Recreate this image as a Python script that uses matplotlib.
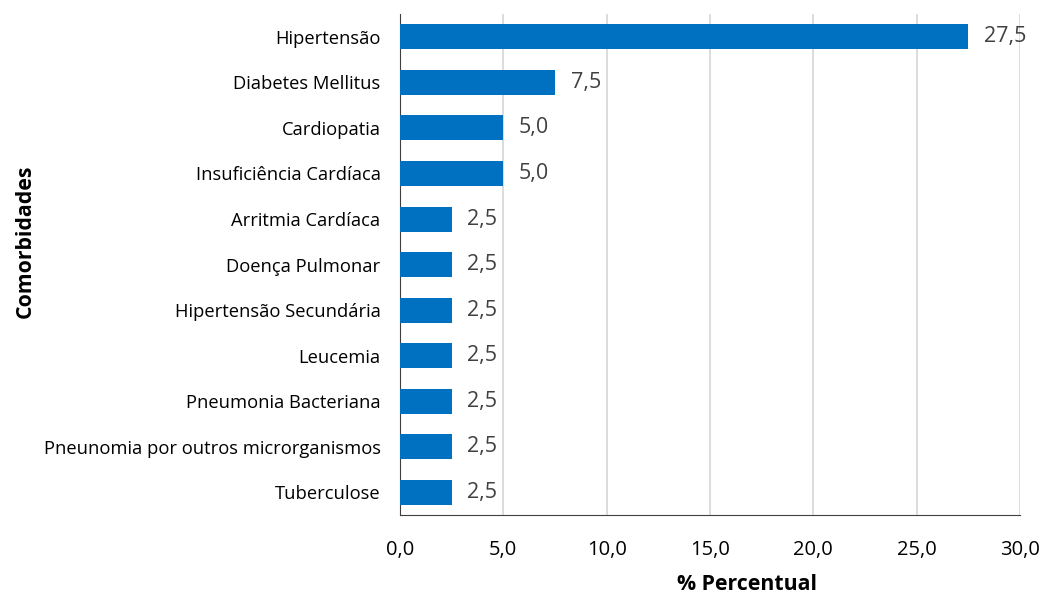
import matplotlib.pyplot as plt
from matplotlib.ticker import FuncFormatter

categorias = ['Hipertensão', 'Diabetes Mellitus', 'Cardiopatia', 'Insuficiência Cardíaca',
              'Arritmia Cardíaca', 'Doença Pulmonar', 'Hipertensão Secundária', 'Leucemia',
              'Pneumonia Bacteriana', 'Pneunomia por outros microrganismos', 'Tuberculose']
percentuais = [27.5, 7.5, 5.0, 5.0, 2.5, 2.5, 2.5, 2.5, 2.5, 2.5, 2.5]
xticks = [0, 5, 10, 15, 20, 25, 30]

plt.rcParams['font.family'] = ['Open Sans', 'DejaVu Sans']

fig = plt.figure(figsize=(10.43, 5.97), dpi=100)
ax = fig.add_axes([0.3835, 0.137, 0.5945, 0.8395])

pos = list(range(len(categorias)))[::-1]
ax.barh(pos, percentuais, height=0.55, color='#0070C0', zorder=3)

for p, v in zip(pos, percentuais):
    ax.text(v + 0.75, p, f'{v:.1f}'.replace('.', ','), va='center', ha='left',
            fontsize=15.5, color='#404040')

ax.set_xlim(0, 30)
ax.set_ylim(-0.5, len(categorias) - 0.5)
ax.set_xticks(xticks)
ax.xaxis.set_major_formatter(FuncFormatter(lambda x, _: f'{x:.1f}'.replace('.', ',')))
ax.set_yticks(pos)
ax.set_yticklabels(categorias, fontsize=13.2)
ax.tick_params(axis='x', labelsize=14.5, length=0, pad=18)
ax.tick_params(axis='y', length=0, pad=14)
ax.grid(axis='x', color='#D9D9D9', linewidth=1.3, zorder=0)

for s in ['top', 'right']:
    ax.spines[s].set_visible(False)
ax.spines['left'].set_color('#404040')
ax.spines['bottom'].set_color('#404040')

# axis titles placed by hand to match the original layout
fig.text(747 / 1043, 1 - 585 / 597, '% Percentual', fontsize=15.3, fontweight='bold',
         ha='center', va='center')
fig.text(25 / 1043, 1 - 241 / 597, 'Comorbidades', rotation=90, fontsize=15.3,
         fontweight='bold', ha='center', va='center')

fig.savefig('out.png', dpi=100)
